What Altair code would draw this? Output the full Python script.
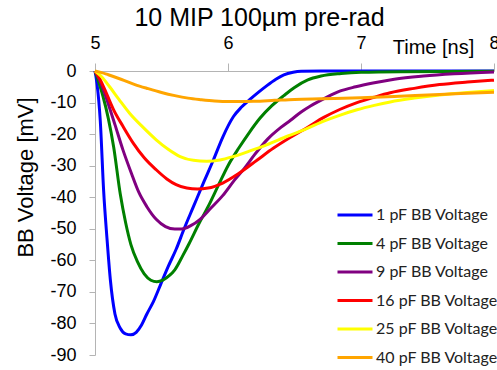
import altair as alt
import pandas as pd

# ---- data ----
series_names = ["1 pF BB Voltage", "4 pF BB Voltage", "9 pF BB Voltage",
                "16 pF BB Voltage", "25 pF BB Voltage", "40 pF BB Voltage"]
series_colors = ["#0000FF", "#008000", "#800080", "#FF0000", "#FFFF00", "#FFA500"]

t_1pF = [5.00, 5.015, 5.04, 5.065, 5.09, 5.115, 5.15, 5.19, 5.23, 5.27, 5.31, 5.35, 5.39, 5.44,
         5.49, 5.55, 5.61, 5.67, 5.74, 5.82, 5.89, 5.96, 6.04, 6.10, 6.165, 6.23, 6.29, 6.36,
         6.42, 6.49, 6.55, 6.70, 7.0, 8.0]
v_1pF = [0, -4, -16, -38, -53, -66, -77, -81.5, -83.3, -83.6, -82.8, -80.5, -77, -73,
         -68, -62, -56.5, -50, -43, -35, -28.2, -21, -14.5, -11.5, -9, -6.7, -4.7, -2.6,
         -1.2, -0.4, -0.1, 0, 0, 0]

t_4pF = [5.00, 5.02, 5.06, 5.10, 5.14, 5.19, 5.23, 5.27, 5.32, 5.37, 5.42, 5.465, 5.51, 5.56,
         5.60, 5.66, 5.71, 5.78, 5.85, 5.93, 6.00, 6.08, 6.16, 6.24, 6.33, 6.42, 6.50, 6.60,
         6.70, 6.85, 7.00, 7.30, 8.00]
v_4pF = [0, -2.5, -8, -15, -24, -39, -48, -55, -60.5, -64.3, -66.3, -66.8, -66.3, -64.8,
         -63, -58.5, -54.5, -48.5, -43, -36, -30, -24.5, -19.5, -15, -11, -7.8, -5.2, -2.8,
         -1.6, -0.8, -0.4, -0.2, -0.1]

t_9pF = [5.00, 5.03, 5.06, 5.09, 5.15, 5.21, 5.27, 5.33, 5.39, 5.46, 5.53, 5.60, 5.65, 5.72,
         5.79, 5.87, 5.96, 6.05, 6.12, 6.20, 6.30, 6.40, 6.47, 6.55, 6.62, 6.73, 6.84, 6.96,
         7.09, 7.25, 7.47, 7.70, 8.00]
v_9pF = [0, -2.5, -5.5, -9.2, -17, -25, -32, -38.5, -43, -47, -49.3, -50.1, -50.1, -49,
         -47, -43.5, -39.5, -34.5, -31, -26.5, -21.5, -17.8, -15.6, -13, -11.1, -8.6, -6.4, -5,
         -3.8, -2.6, -1.6, -0.9, -0.3]

t_16pF = [5.00, 5.04, 5.09, 5.14, 5.21, 5.29, 5.37, 5.46, 5.54, 5.61, 5.69, 5.77, 5.85, 5.96,
          6.08, 6.22, 6.34, 6.47, 6.60, 6.72, 6.84, 6.97, 7.10, 7.22, 7.40, 7.59, 7.80, 8.00]
v_16pF = [0, -2.8, -7.5, -12.3, -17.5, -23, -27.5, -31.3, -34.2, -36, -37.1, -37.4, -37.1, -35.5,
          -32.5, -28.2, -24.5, -21, -17.8, -14.7, -12.2, -10, -8.3, -6.9, -5.5, -4.3, -3.5, -2.9]

t_25pF = [5.00, 5.05, 5.11, 5.18, 5.26, 5.36, 5.46, 5.55, 5.64, 5.74, 5.84, 5.94, 6.04, 6.16,
          6.29, 6.45, 6.58, 6.72, 6.85, 6.97, 7.10, 7.22, 7.40, 7.59, 7.80, 8.00]
v_25pF = [0, -1.8, -5, -9, -13.4, -17.8, -21.8, -24.8, -27.1, -28.3, -28.6, -28.2, -27.1, -25.4,
          -23.4, -20.6, -18.5, -15.9, -13.9, -12.3, -10.9, -9.8, -8.6, -7.6, -6.8, -6.2]

t_40pF = [5.00, 5.05, 5.10, 5.20, 5.30, 5.40, 5.50, 5.60, 5.70, 5.80, 5.90, 6.00, 6.10, 6.20,
          6.35, 6.50, 6.70, 7.00, 7.25, 7.50, 7.75, 8.00]
v_40pF = [0, -0.5, -1.2, -2.7, -4.3, -5.6, -6.8, -7.8, -8.6, -9.1, -9.5, -9.7, -9.7, -9.6,
          -9.3, -9.0, -8.8, -8.5, -8.1, -7.6, -7.1, -6.7]

x_ticks = [5, 6, 7, 8]
y_ticks = [-90, -80, -70, -60, -50, -40, -30, -20, -10, 0]

# ---- build long table ----
all_t = [t_1pF, t_4pF, t_9pF, t_16pF, t_25pF, t_40pF]
all_v = [v_1pF, v_4pF, v_9pF, v_16pF, v_25pF, v_40pF]
rows = []
for name, ts, vs in zip(series_names, all_t, all_v):
    for t, v in zip(ts, vs):
        rows.append({"series": name, "t": t, "v": v})
df = pd.DataFrame(rows)

FONT = "Liberation Sans"

chart = alt.Chart(df).mark_line(strokeWidth=3, interpolate="monotone").encode(
    x=alt.X("t:Q",
            scale=alt.Scale(domain=[5, 8], nice=False, zero=False),
            axis=alt.Axis(orient="top", values=x_ticks, format="d", grid=False,
                          labelFlush=False, labelFont=FONT, labelFontSize=18,
                          labelColor="#000000", labelPadding=11,
                          tickSize=8, tickColor="#b4b4b4", domainColor="#b4b4b4",
                          title="Time [ns]", titleFont=FONT, titleFontSize=20,
                          titleFontWeight="normal", titleColor="#000000",
                          titleX=338, titleY=-24, titleAlign="center",
                          titleBaseline="middle", titleAnchor="start")),
    y=alt.Y("v:Q",
            scale=alt.Scale(domain=[-90, 0], nice=False, zero=False),
            axis=alt.Axis(values=y_ticks, labelExpr="'' + datum.value", grid=False,
                          labelFont=FONT, labelFontSize=18, labelColor="#000000",
                          labelPadding=13, tickSize=6, tickColor="#b4b4b4",
                          domainColor="#b4b4b4",
                          title="BB Voltage [mV]", titleFont=FONT, titleFontSize=22,
                          titleFontWeight="normal", titleColor="#000000",
                          titleAngle=270, titleX=-70, titleY=106,
                          titleAlign="center", titleBaseline="middle",
                          titleAnchor="start")),
    color=alt.Color("series:N",
                    scale=alt.Scale(domain=series_names, range=series_colors),
                    legend=alt.Legend(orient="none", legendX=241, legendY=125,
                                      title=None, symbolType="stroke",
                                      symbolSize=1225, symbolStrokeWidth=3,
                                      labelFont="Lato", labelFontSize=16,
                                      labelColor="#222222", labelOffset=2,
                                      rowPadding=1.5, labelLimit=400)),
    order=alt.Order("t:Q"),
    detail="series:N",
).properties(
    width=399,
    height=284,
    title=alt.TitleParams("10 MIP 100µm pre-rad", font=FONT, fontSize=25,
                          fontWeight="normal", color="#000000", anchor="middle",
                          dx=-35, offset=3),
    autosize=alt.AutoSizeParams(type="none"),
    padding={"left": 95, "top": 71, "right": 3, "bottom": 15},
).configure_view(stroke=None)

chart.save("out.html", embed_options={"renderer": "svg", "actions": False})
